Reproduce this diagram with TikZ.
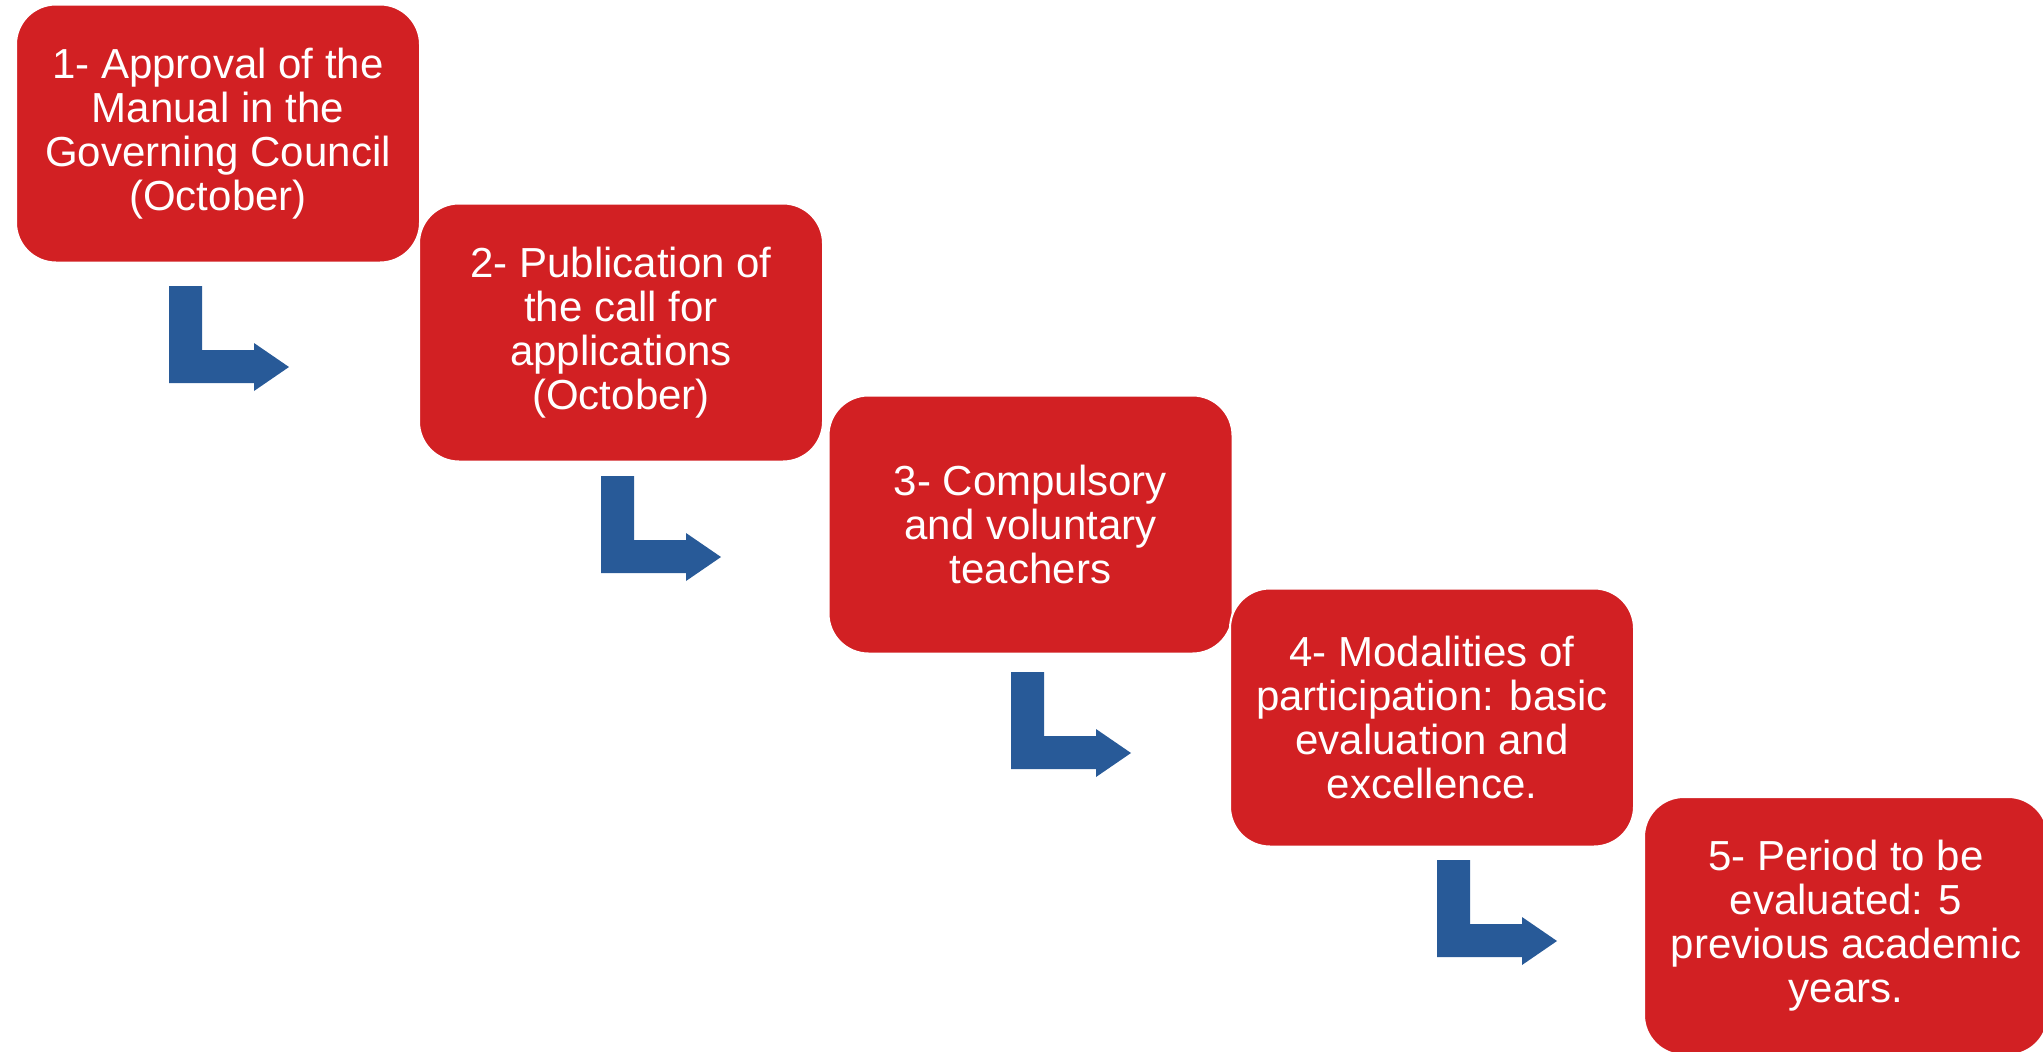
\documentclass[tikz,border=0pt]{standalone}
\usepackage{fontspec}
\setmainfont{Liberation Sans}
\usetikzlibrary{positioning}

\definecolor{stepred}{RGB}{210,32,35}
\definecolor{stepblue}{RGB}{40,90,152}

\begin{document}
\begin{tikzpicture}[x=1pt,y=-1pt,
    every node/.style={font=\fontsize{42}{44}\selectfont, text=white},
    stepbox/.style={fill=stepred, draw=white, line width=2pt, rounded corners=40pt,
        minimum width=404pt, minimum height=258pt, align=center, inner sep=0pt},
    bent/.style={fill=stepblue}]
    \useasboundingbox (0,0) rectangle (2043,1052);
    % the five steps
    \node[stepbox] (s1) at (218,133.5) {1- Approval of the\\Manual in the\\Governing Council\\(October)};
    \node[stepbox] (s2) at (621,332.5) {2- Publication of\\the call for\\applications\\(October)};
    \node[stepbox] (s3) at (1030.5,524.5) {3- Compulsory\\and voluntary\\teachers};
    \node[stepbox] (s4) at (1432,717.5) {4- Modalities of\\participation: basic\\evaluation and\\excellence.};
    \node[stepbox] (s5) at (1846,926) {5- Period to be\\evaluated: 5\\previous academic\\years.};
    % bent arrows
    \foreach \ax/\ay in {169/286, 601/476, 1011/672, 1437/860}
        \fill[bent, shift={(\ax,\ay)}] (0,0) -- (33,0) -- (33,64) -- (85,64) -- (85,57)
            -- (120,81) -- (85,105) -- (85,97) -- (0,97) -- cycle;
\end{tikzpicture}
\end{document}
